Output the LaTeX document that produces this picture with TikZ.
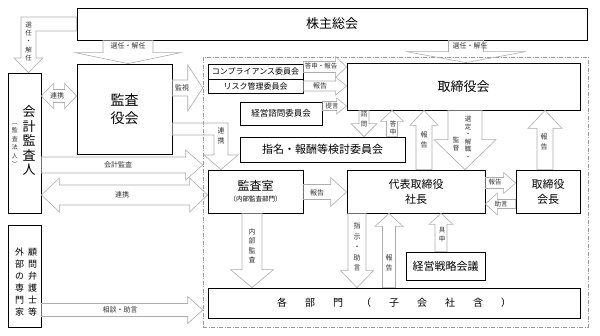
\documentclass[tikz,border=0pt]{standalone}
\usepackage{fontspec}
\setmainfont{Noto Sans CJK JP}
\usetikzlibrary{calc}

% straight block arrow: start, end, shaft width, head width, head length
\newcommand{\blockarrow}[5]{%
  \draw[blockarr] let \p1=#1, \p2=#2,
    \n1={veclen(\x2-\x1,\y2-\y1)}, \n2={atan2(\y2-\y1,\x2-\x1)} in
    ([tf]0,#3/2) -- ([tf]\n1-#5,#3/2) -- ([tf]\n1-#5,#4/2) -- ([tf]\n1,0)
    -- ([tf]\n1-#5,-#4/2) -- ([tf]\n1-#5,-#3/2) -- ([tf]0,-#3/2) -- cycle;}

% two-headed block arrow, same arguments
\newcommand{\dblarrow}[5]{%
  \draw[blockarr] let \p1=#1, \p2=#2,
    \n1={veclen(\x2-\x1,\y2-\y1)}, \n2={atan2(\y2-\y1,\x2-\x1)} in
    ([tf]0,0) -- ([tf]#5,#4/2) -- ([tf]#5,#3/2) -- ([tf]\n1-#5,#3/2)
    -- ([tf]\n1-#5,#4/2) -- ([tf]\n1,0) -- ([tf]\n1-#5,-#4/2) -- ([tf]\n1-#5,-#3/2)
    -- ([tf]#5,-#3/2) -- ([tf]#5,-#4/2) -- cycle;}

\begin{document}
\begin{tikzpicture}[
	x=1pt,y=-1pt,
	box/.style={draw, line width=0.8pt, fill=white, inner sep=0pt, align=center},
	blockarr/.style={draw=gray!65, line width=0.6pt},
	tf/.style={shift={(\p1)}, rotate=\n2},
	lbl/.style={font=\fontsize{7}{8}\selectfont, text=black!80, inner sep=0pt, align=center},
	vtxt/.style={inner sep=0pt, align=center}
	]
	\useasboundingbox (0,0) rectangle (600,336);
	
	% --------------------------
	% outer boxes
	% --------------------------
	\node[box, minimum width=510, minimum height=32, font=\fontsize{13}{15}\selectfont] (soukai) at (332,24) {株主総会};
	\node[box, minimum width=95, minimum height=90, font=\fontsize{14}{18}\selectfont] (kansayaku) at (124.5,109) {監査\\役会};
	
	\node[box, minimum width=33, minimum height=140] (kaikei) at (24.5,143) {};
	\node[vtxt, font=\fontsize{13}{14.5}\selectfont] (kaikei-t) at (29,141) {会\\計\\監\\査\\人};
	\node[lbl, font=\fontsize{6}{8.5}\selectfont] (kaikei-s) at (15,145) {︵\\監\\査\\法\\人\\︶};
	
	\node[box, minimum width=33, minimum height=102] (gaibu) at (24.5,276) {};
	\node[vtxt, font=\fontsize{9}{12}\selectfont] (gaibu-l) at (19.5,282) {外\\部\\の\\専\\門\\家};
	\node[vtxt, font=\fontsize{9}{12}\selectfont] (gaibu-r) at (32.5,282) {顧\\問\\弁\\護\\士\\等};
	
	% company frame
	\node[draw=gray!80, line width=0.5pt, dash pattern=on 4pt off 1.5pt on 1pt off 1.5pt,
	minimum width=385, minimum height=270, inner sep=0pt] (grp) at (395.5,192) {};
	
	% --------------------------
	% inside the company
	% --------------------------
	\node[box, minimum width=95, minimum height=15, font=\fontsize{8}{9}\selectfont] (comp) at (255.5,71.5) {コンプライアンス委員会};
	\node[box, minimum width=95, minimum height=14, font=\fontsize{8}{9}\selectfont] (risk) at (255.5,86) {リスク管理委員会};
	\node[box, minimum width=82, minimum height=23, font=\fontsize{8.5}{9}\selectfont] (shimon) at (281,113.5) {経営諮問委員会};
	\node[box, minimum width=165, minimum height=25, font=\fontsize{11}{12}\selectfont] (shimei) at (322.5,149.5) {指名・報酬等検討委員会};
	\node[box, minimum width=233, minimum height=47, font=\fontsize{13}{15}\selectfont] (torishimari) at (463.5,86.5) {取締役会};
	
	\node[box, minimum width=95, minimum height=43] (kansasitsu) at (255.5,191.5)
	{{\fontsize{12}{13}\selectfont 監査室}\\[-1pt]{\fontsize{6.5}{8}\selectfont （内部監査部門）}};
	\node[box, minimum width=138, minimum height=43, font=\fontsize{11}{15}\selectfont] (shacho) at (416,191.5) {代表取締役\\社長};
	\node[box, minimum width=64, minimum height=43, font=\fontsize{11}{15}\selectfont] (kaicho) at (548,191.5) {取締役\\会長};
	\node[box, minimum width=79, minimum height=28, font=\fontsize{11}{12}\selectfont] (senryaku) at (445.5,266) {経営戦略会議};
	\node[box, minimum width=372, minimum height=30, font=\fontsize{10}{12}\selectfont] (kakubu) at (394,303)
	{各\hspace{18pt}部\hspace{18pt}門\hspace{18pt}（\hspace{18pt}子\hspace{18pt}会\hspace{18pt}社\hspace{18pt}含\hspace{18pt}）};
	
	% --------------------------
	% shareholders meeting
	% --------------------------
	\draw[blockarr] (soukai.west |- 0,17) -- (21,17) -- (21,58) -- (14,58) -- (28.5,0 |- kaikei.north)
	-- (43,58) -- (36,58) -- (36,31) -- (soukai.west |- 0,31) -- cycle;
	\node[lbl, font=\fontsize{6.5}{8.3}\selectfont] (l-sen1) at (28.5,41.5) {選\\任\\・\\解\\任};
	\blockarrow{(128,0 |- soukai.south)}{(128,0 |- kansayaku.north)}{50}{106}{11}
	\node[lbl] (l-sen2) at (128,46) {選任・解任};
	\blockarrow{(466,0 |- soukai.south)}{(466,0 |- torishimari.north)}{35}{120}{11}
	\node[lbl] (l-sen3) at (470,46) {選任・解任};
	
	% --------------------------
	% audit board and auditor
	% --------------------------
	\blockarrow{(kansayaku.east |- 0,88)}{(grp.west |- 0,88)}{16}{46}{15}
	\node[lbl] (l-kanshi) at (182,88) {監視};
	\dblarrow{(kaikei.east |- 0,96)}{(kansayaku.west |- 0,96)}{13}{25}{12}
	\node[lbl] (l-renkei1) at (57,96) {連携};
	\draw[blockarr] (kansayaku.east |- 0,123) -- (228,123) -- (228,155) -- (238,155) -- (221,0 |- kansasitsu.north)
	-- (204,155) -- (214,155) -- (214,135) -- (kansayaku.east |- 0,135) -- cycle;
	\node[lbl, font=\fontsize{7}{10}\selectfont] (l-renkei2) at (221,136) {連\\携};
	
	\blockarrow{(kaikei.east |- 0,165)}{(grp.west |- 0,165)}{16}{30}{17}
	\node[lbl] (l-kaikei) at (118,164.5) {会計監査};
	\dblarrow{(kaikei.east |- 0,195)}{(kansasitsu.west |- 0,195)}{20}{34}{18}
	\node[lbl] (l-renkei3) at (122,194.5) {連携};
	\blockarrow{(gaibu.east |- 0,310)}{(grp.west |- 0,310)}{13}{27}{15}
	\node[lbl] (l-soudan) at (120,309.5) {相談・助言};
	
	% --------------------------
	% committees and board
	% --------------------------
	\blockarrow{(comp.east |- 0,67)}{(torishimari.west |- 0,67)}{11}{21}{11}
	\node[lbl, font=\fontsize{6.5}{8}\selectfont] (l-toushin1) at (321,66) {答申・報告};
	\blockarrow{(risk.east |- 0,86)}{(torishimari.west |- 0,86)}{10}{18}{11}
	\node[lbl] (l-houkoku1) at (320,85.5) {報告};
	\blockarrow{(shimon.east |- 0,106)}{(torishimari.west |- 0,106)}{9}{16}{10}
	\node[lbl, font=\fontsize{6.5}{8}\selectfont] (l-teigen) at (332,106) {提言};
	
	\blockarrow{(364,0 |- torishimari.south)}{(364,0 |- shimei.north)}{10}{26}{13}
	\node[lbl, font=\fontsize{6.5}{10}\selectfont] (l-shimon) at (364,119) {諮\\問};
	\blockarrow{(392,0 |- shimei.north)}{(392,0 |- torishimari.south)}{11}{23}{11}
	\node[lbl, font=\fontsize{6.5}{8}\selectfont] (l-toushin2) at (393,128) {答\\申};
	\blockarrow{(424,0 |- shacho.north)}{(424,0 |- torishimari.south)}{16}{28}{15}
	\node[lbl, font=\fontsize{7}{10}\selectfont] (l-houkoku2) at (424,140) {報\\告};
	\blockarrow{(465,0 |- torishimari.south)}{(465,0 |- shacho.north)}{34}{62}{30}
	\node[lbl, font=\fontsize{6.5}{7.5}\selectfont] (l-sentei) at (468,138) {選\\定\\・\\解\\職\\・};
	\node[lbl, font=\fontsize{6.5}{8}\selectfont] (l-kantoku) at (456,144) {監\\督};
	\blockarrow{(545,0 |- kaicho.north)}{(545,0 |- torishimari.south)}{16}{34}{18}
	\node[lbl, font=\fontsize{7}{10}\selectfont] (l-houkoku3) at (544,142) {報\\告};
	
	% --------------------------
	% president and departments
	% --------------------------
	\blockarrow{(kansasitsu.east |- 0,192)}{(shacho.west |- 0,192)}{15}{29}{16}
	\node[lbl] (l-houkoku4) at (317,193) {報告};
	\blockarrow{(shacho.east |- 0,183)}{(kaicho.west |- 0,183)}{11}{21}{12}
	\node[lbl, font=\fontsize{6.5}{8}\selectfont] (l-houkoku5) at (495,182.5) {報告};
	\blockarrow{(kaicho.west |- 0,204)}{(shacho.east |- 0,204)}{9}{22}{12}
	\node[lbl, font=\fontsize{6.5}{8}\selectfont] (l-jogen) at (501,204) {助言};
	
	\blockarrow{(252,0 |- kansasitsu.south)}{(252,0 |- kakubu.north)}{20}{43}{18}
	\node[lbl, font=\fontsize{7}{9.5}\selectfont] (l-naibu) at (252,246) {内\\部\\監\\査};
	\blockarrow{(357,0 |- shacho.south)}{(357,0 |- kakubu.north)}{18}{33}{17}
	\node[lbl, font=\fontsize{7}{10.5}\selectfont] (l-shiji) at (357,247) {指\\示\\・\\助\\言};
	\blockarrow{(389,0 |- kakubu.north)}{(389,0 |- shacho.south)}{13}{28}{13}
	\node[lbl, font=\fontsize{7}{10}\selectfont] (l-houkoku6) at (389,263) {報\\告};
	\blockarrow{(441,0 |- senryaku.north)}{(441,0 |- shacho.south)}{12}{24}{11}
	\node[lbl, font=\fontsize{6.5}{9}\selectfont] (l-gushin) at (442,235) {具\\申};
	
\end{tikzpicture}
\end{document}
